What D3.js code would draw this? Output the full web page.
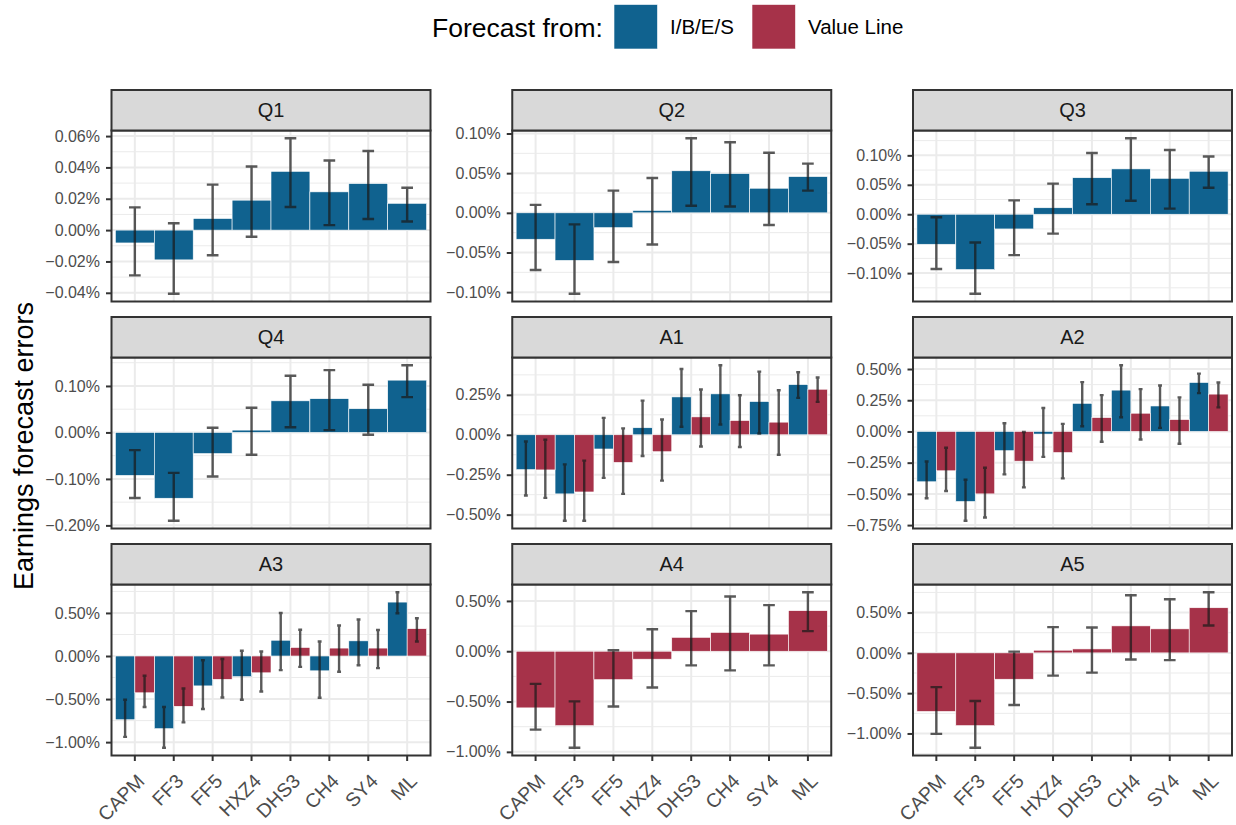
<!DOCTYPE html>
<html>
<head>
<meta charset="utf-8">
<script src="https://cdn.jsdelivr.net/npm/d3@7"></script>
<style>
  html, body { margin: 0; padding: 0; background: #ffffff; }
  svg { display: block; font-family: "Liberation Sans", Arial, Helvetica, sans-serif; }
</style>
</head>
<body>
<svg id="chart" width="1236" height="825"></svg>
<script>
// Pricing models on the x axis, forecast horizons as facets
const models = ["CAPM", "FF3", "FF5", "HXZ4", "DHS3", "CH4", "SY4", "ML"];
const horizons = ["Q1", "Q2", "Q3", "Q4", "A1", "A2", "A3", "A4", "A5"];
const sources = ["I/B/E/S", "Value Line"];
const sourceColors = ["#10628f", "#a63249"];

// I/B/E/S forecasts: mean error and confidence bounds (in %), per horizon
const ibesHorizons = ["Q1", "Q2", "Q3", "Q4", "A1", "A2", "A3"];
const ibesEst = [
  [-0.0082, -0.0190, 0.0074, 0.0191, 0.0375, 0.0244, 0.0297, 0.0171],
  [-0.0333, -0.0600, -0.0187, 0.0030, 0.0530, 0.0495, 0.0310, 0.0457],
  [-0.0510, -0.0940, -0.0250, 0.0110, 0.0620, 0.0770, 0.0610, 0.0730],
  [-0.0925, -0.1416, -0.0455, 0.0050, 0.0680, 0.0726, 0.0510, 0.1125],
  [-0.218, -0.370, -0.089, 0.044, 0.237, 0.256, 0.208, 0.314],
  [-0.403, -0.561, -0.154, -0.021, 0.225, 0.331, 0.204, 0.392],
  [-0.740, -0.844, -0.347, -0.240, 0.183, -0.172, 0.176, 0.626]
];
const ibesLo = [
  [-0.0289, -0.0406, -0.0160, -0.0042, 0.0147, 0.0032, 0.0071, 0.0055],
  [-0.0720, -0.1020, -0.0620, -0.0400, 0.0090, 0.0080, -0.0154, 0.0280],
  [-0.0930, -0.1350, -0.0695, -0.0330, 0.0170, 0.0230, 0.0095, 0.0450],
  [-0.1410, -0.1900, -0.0947, -0.0480, 0.0110, 0.0050, -0.0050, 0.0760],
  [-0.380, -0.538, -0.270, -0.133, 0.050, 0.064, 0.008, 0.231],
  [-0.535, -0.715, -0.344, -0.204, 0.042, 0.114, 0.029, 0.307],
  [-0.939, -1.065, -0.615, -0.508, -0.164, -0.485, -0.107, 0.496]
];
const ibesHi = [
  [0.0145, 0.0044, 0.0290, 0.0406, 0.0586, 0.0444, 0.0505, 0.0270],
  [0.0100, -0.0146, 0.0280, 0.0440, 0.0940, 0.0890, 0.0757, 0.0620],
  [-0.0050, -0.0480, 0.0235, 0.0520, 0.1040, 0.1290, 0.1090, 0.0980],
  [-0.0380, -0.0870, 0.0100, 0.0530, 0.1220, 0.1340, 0.1025, 0.1445],
  [-0.042, -0.185, 0.106, 0.214, 0.412, 0.435, 0.395, 0.391],
  [-0.241, -0.387, 0.066, 0.188, 0.395, 0.530, 0.368, 0.463],
  [-0.508, -0.592, -0.050, 0.061, 0.500, 0.168, 0.424, 0.740]
];

// Value Line forecasts: mean error and confidence bounds (in %), per horizon
const vlHorizons = ["A1", "A2", "A3", "A4", "A5"];
const vlEst = [
  [-0.220, -0.358, -0.173, -0.106, 0.112, 0.089, 0.079, 0.285],
  [-0.315, -0.500, -0.238, -0.169, 0.111, 0.146, 0.095, 0.299],
  [-0.427, -0.584, -0.271, -0.195, 0.099, 0.092, 0.092, 0.317],
  [-0.563, -0.740, -0.282, -0.079, 0.138, 0.187, 0.170, 0.403],
  [-0.727, -0.903, -0.327, 0.033, 0.049, 0.335, 0.298, 0.560]
];
const vlLo = [
  [-0.395, -0.538, -0.370, -0.287, -0.073, -0.077, -0.125, 0.206],
  [-0.477, -0.689, -0.448, -0.376, -0.082, -0.064, -0.098, 0.193],
  [-0.592, -0.771, -0.481, -0.412, -0.126, -0.183, -0.141, 0.168],
  [-0.779, -0.959, -0.550, -0.360, -0.141, -0.190, -0.141, 0.200],
  [-1.005, -1.177, -0.646, -0.282, -0.245, -0.082, -0.090, 0.339]
];
const vlHi = [
  [-0.031, -0.162, 0.040, 0.096, 0.283, 0.247, 0.279, 0.358],
  [-0.130, -0.291, -0.005, 0.061, 0.291, 0.339, 0.273, 0.392],
  [-0.229, -0.378, -0.034, 0.053, 0.305, 0.355, 0.302, 0.439],
  [-0.324, -0.498, 0.010, 0.219, 0.399, 0.544, 0.458, 0.586],
  [-0.425, -0.597, 0.016, 0.319, 0.315, 0.715, 0.666, 0.752]
];

// Y-axis breaks for each facet (in %)
const yTicks = [
  [-0.04, -0.02, 0, 0.02, 0.04, 0.06],
  [-0.10, -0.05, 0, 0.05, 0.10],
  [-0.10, -0.05, 0, 0.05, 0.10],
  [-0.20, -0.10, 0, 0.10],
  [-0.50, -0.25, 0, 0.25],
  [-0.75, -0.50, -0.25, 0, 0.25, 0.50],
  [-1.00, -0.50, 0, 0.50],
  [-1.00, -0.50, 0, 0.50],
  [-1.00, -0.50, 0, 0.50]
];

// ---- layout ----
const svg = d3.select("#chart");
const nCol = 3;
const colLeft0 = 111.5, colStep = 400.75, panelW = 319;
const rowTop0 = 90, rowStep = 227, stripH = 40.5, plotH = 171;
const gridCol = "#ebebeb", darkCol = "#333333";
const fmtPct = v => (v < 0 ? "\u2212" : "") + Math.abs(v).toFixed(2) + "%";

svg.append("rect").attr("width", 1236).attr("height", 825).attr("fill", "#ffffff");

horizons.forEach((h, idx) => {
  const col = idx % nCol, row = Math.floor(idx / nCol);
  const left = colLeft0 + col * colStep;
  const stripTop = rowTop0 + row * rowStep;
  const top = stripTop + stripH;
  const bottom = top + plotH;

  // series present in this facet
  const series = [];
  const ib = ibesHorizons.indexOf(h);
  if (ib >= 0) series.push({ s: 0, est: ibesEst[ib], lo: ibesLo[ib], hi: ibesHi[ib] });
  const vl = vlHorizons.indexOf(h);
  if (vl >= 0) series.push({ s: 1, est: vlEst[vl], lo: vlLo[vl], hi: vlHi[vl] });
  const dodge = series.length > 1;

  const x = d3.scaleBand().domain(models).range([left, left + panelW])
    .paddingInner(0).paddingOuter(0.1);
  const step = x.step();

  const allVals = [0];
  series.forEach(d => allVals.push(...d.est, ...d.lo, ...d.hi));
  const lo = d3.min(allVals), hi = d3.max(allVals), pad = (hi - lo) * 0.05;
  const y = d3.scaleLinear().domain([lo - pad, hi + pad]).range([bottom, top]);

  const g = svg.append("g");

  // minor gridlines: midpoints of the (extended) major breaks
  const ticks = yTicks[idx];
  const tStep = ticks[1] - ticks[0];
  const ext = [ticks[0] - tStep, ...ticks, ticks[ticks.length - 1] + tStep];
  const minor = d3.pairs(ext).map(([a, b]) => (a + b) / 2)
    .filter(v => v >= y.domain()[0] && v <= y.domain()[1]);
  g.selectAll(".minor").data(minor).join("line")
    .attr("x1", left).attr("x2", left + panelW)
    .attr("y1", d => y(d)).attr("y2", d => y(d))
    .attr("stroke", gridCol).attr("stroke-width", 1);
  g.selectAll(".majorY").data(ticks).join("line")
    .attr("x1", left).attr("x2", left + panelW)
    .attr("y1", d => y(d)).attr("y2", d => y(d))
    .attr("stroke", gridCol).attr("stroke-width", 2);
  g.selectAll(".majorX").data(models).join("line")
    .attr("x1", d => x(d) + step / 2).attr("x2", d => x(d) + step / 2)
    .attr("y1", top).attr("y2", bottom)
    .attr("stroke", gridCol).attr("stroke-width", 2);

  // bars
  const barW = dodge ? step / 2 : step;
  series.forEach((ser, k) => {
    const off = dodge ? k * barW : 0;
    g.append("g").selectAll("rect").data(models).join("rect")
      .attr("x", (m) => x(m) + off)
      .attr("width", barW)
      .attr("y", (m, i) => y(Math.max(0, ser.est[i])))
      .attr("height", (m, i) => Math.abs(y(ser.est[i]) - y(0)))
      .attr("fill", sourceColors[ser.s])
      .attr("stroke", "#ffffff").attr("stroke-width", 0.6);
  });

  // error bars
  const capW = dodge ? step * 0.1 : step * 0.3;
  series.forEach((ser, k) => {
    const cx = m => x(m) + (dodge ? k * barW + barW / 2 : step / 2);
    const eg = g.append("g").attr("stroke", "#1a1a1a").attr("stroke-opacity", 0.72)
      .attr("stroke-width", 2.4).attr("fill", "none");
    models.forEach((m, i) => {
      const p = d3.path();
      p.moveTo(cx(m), y(ser.lo[i])); p.lineTo(cx(m), y(ser.hi[i]));
      p.moveTo(cx(m) - capW / 2, y(ser.lo[i])); p.lineTo(cx(m) + capW / 2, y(ser.lo[i]));
      p.moveTo(cx(m) - capW / 2, y(ser.hi[i])); p.lineTo(cx(m) + capW / 2, y(ser.hi[i]));
      eg.append("path").attr("d", p.toString());
    });
  });

  // panel border
  g.append("rect").attr("x", left).attr("y", top).attr("width", panelW).attr("height", plotH)
    .attr("fill", "none").attr("stroke", darkCol).attr("stroke-width", 2);

  // strip
  g.append("rect").attr("x", left).attr("y", stripTop).attr("width", panelW).attr("height", stripH)
    .attr("fill", "#d9d9d9").attr("stroke", darkCol).attr("stroke-width", 2);
  g.append("text").attr("x", left + panelW / 2).attr("y", stripTop + stripH / 2)
    .attr("dy", "0.36em").attr("text-anchor", "middle")
    .attr("font-size", 20).attr("fill", "#1a1a1a").text(h);

  // y axis
  const yAxis = g.append("g").attr("transform", `translate(${left},0)`)
    .call(d3.axisLeft(y).tickValues(ticks).tickSize(5.5).tickPadding(6).tickFormat(fmtPct));
  yAxis.select(".domain").remove();
  yAxis.selectAll(".tick line").attr("stroke", darkCol).attr("stroke-width", 2);
  yAxis.selectAll(".tick text").attr("fill", "#4d4d4d").attr("font-size", 16)
    .attr("font-family", "Liberation Sans, Arial, sans-serif");

  // x axis on the bottom row only
  if (row === 2) {
    const xAxis = g.append("g").attr("transform", `translate(0,${bottom})`)
      .call(d3.axisBottom(x).tickSize(5.5).tickFormat(""));
    xAxis.select(".domain").remove();
    xAxis.selectAll(".tick line").attr("stroke", darkCol).attr("stroke-width", 2);
    g.append("g").selectAll("text").data(models).join("text")
      .attr("transform", d => `translate(${x(d) + step / 2 + 1},${bottom + 17}) rotate(-45)`)
      .attr("text-anchor", "end").attr("dy", "0.72em")
      .attr("font-size", 19.5).attr("fill", "#4d4d4d").text(d => d);
  }
});

// y-axis title
svg.append("text")
  .attr("transform", "translate(33,446) rotate(-90)")
  .attr("text-anchor", "middle").attr("font-size", 27).attr("fill", "#000")
  .text("Earnings forecast errors");

// legend
const leg = svg.append("g");
leg.append("text").attr("x", 432).attr("y", 37).attr("font-size", 26.5).attr("fill", "#000")
  .text("Forecast from:");
const keyX = [614, 752], labX = [670, 808];
sources.forEach((s, i) => {
  leg.append("rect").attr("x", keyX[i]).attr("y", 4.5).attr("width", 43.5).attr("height", 44.5)
    .attr("fill", sourceColors[i]).attr("stroke", "#ffffff").attr("stroke-width", 0.6);
  leg.append("text").attr("x", labX[i]).attr("y", 27).attr("dy", "0.36em")
    .attr("font-size", 20.5).attr("fill", "#000").text(s);
});
</script>
</body>
</html>
